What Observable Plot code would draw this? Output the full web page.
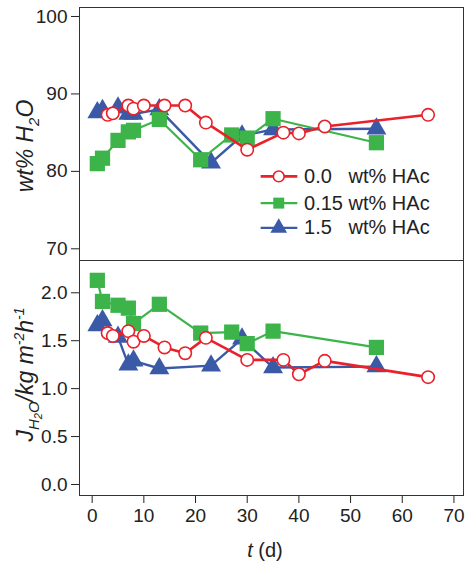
<!DOCTYPE html>
<html><head><meta charset="utf-8">
<script src="https://cdn.jsdelivr.net/npm/d3@7"></script>
<script src="https://cdn.jsdelivr.net/npm/@observablehq/plot@0.6"></script>
<style>
body{margin:0;background:#fff;}
#chart{width:465px;height:565px;overflow:hidden;}
#chart svg{display:block;}
</style></head><body><div id="chart"></div>
<script>
// ---- data ----
const seriesLabels = ["0.0", "0.15", "1.5"];
const seriesUnit = "wt% HAc";
const xTicks = [0, 10, 20, 30, 40, 50, 60, 70];
const wtTicks = [70, 80, 90, 100];
const jTicks = [0.0, 0.5, 1.0, 1.5, 2.0];

const daysA = [3, 4, 7, 8, 10, 14, 18, 22, 30, 37, 40, 45, 65];
const wtA   = [87.3, 87.5, 88.5, 88.1, 88.5, 88.5, 88.5, 86.3, 82.8, 85.0, 84.9, 85.8, 87.3];
const jA    = [1.58, 1.55, 1.60, 1.49, 1.55, 1.43, 1.37, 1.53, 1.30, 1.30, 1.15, 1.29, 1.12];

const daysB = [1, 2, 5, 7, 8, 13, 21, 27, 30, 35, 55];
const wtB   = [81.0, 81.7, 84.0, 85.1, 85.3, 86.7, 81.5, 84.7, 84.3, 86.8, 83.7];
const jB    = [2.13, 1.91, 1.87, 1.84, 1.68, 1.88, 1.58, 1.59, 1.47, 1.60, 1.43];

const daysC = [1, 2, 5, 7, 8, 13, 23, 29, 35, 55];
const wtC   = [87.6, 87.9, 88.2, 87.4, 87.4, 88.0, 81.1, 84.6, 85.4, 85.5];
const jC    = [1.66, 1.71, 1.54, 1.25, 1.29, 1.21, 1.24, 1.52, 1.22, 1.23];

// ---- styling ----
const FONT = "'Liberation Sans', Arial, Helvetica, sans-serif";
const styles = [
  {color: "#e8212b", symbol: "circle", r: 6.2, fill: "white", stroke: "#e8212b", sw: 2.6},
  {color: "#3cb44a", symbol: "square", r: 8.6, fill: "#3cb44a", stroke: "none", sw: 2.2},
  {color: "#3a5aa8", symbol: "triangle", r: 7.4, fill: "#3a5aa8", stroke: "none", sw: 2.4}
];
const raw = [[daysA, wtA, jA], [daysB, wtB, jB], [daysC, wtC, jC]];
const series = raw.map(([d, w, j], i) => d.map((t, k) => ({t, wt: w[k], J: j[k], s: i})));

function seriesMarks(yKey) {
  const marks = [];
  for (const i of [2, 1, 0]) {
    const st = styles[i];
    marks.push(Plot.line(series[i], {x: "t", y: yKey, stroke: st.color, strokeWidth: st.sw}));
    marks.push(Plot.dot(series[i], {x: "t", y: yKey, symbol: () => st.symbol, r: st.r,
      fill: st.fill, stroke: st.stroke, strokeWidth: 1.6}));
  }
  return marks;
}

const xDomain = [-2.45, 71.85];

// legend (layout in data units of the top panel)
const legY = [79.35, 75.9, 72.7];
const legendMarks = [];
seriesLabels.forEach((lab, i) => {
  const st = styles[i];
  const row = [{y: legY[i]}];
  legendMarks.push(Plot.link(row, {x1: () => 32.6, x2: () => 39.7, y1: "y", y2: "y", stroke: st.color, strokeWidth: st.sw}));
  legendMarks.push(Plot.dot(row, {x: () => 36.1, y: "y", symbol: () => st.symbol, r: st.symbol === "square" ? 6.2 : st.symbol === "triangle" ? 6.2 : 5.4,
    fill: st.fill, stroke: st.stroke, strokeWidth: 1.6}));
  legendMarks.push(Plot.text(row, {x: () => 41.0, y: "y", text: () => lab, textAnchor: "start", fontSize: 20, fill: "#222"}));
  legendMarks.push(Plot.text(row, {x: () => 49.6, y: "y", text: () => seriesUnit, textAnchor: "start", fontSize: 20, fill: "#222"}));
});

const topPlot = Plot.plot({
  width: 465, height: 261,
  marginTop: 7, marginBottom: 1, marginLeft: 79, marginRight: 2,
  style: {fontFamily: FONT, fontSize: "19px", background: "transparent", color: "#222"},
  x: {domain: xDomain, axis: null},
  y: {domain: [68.49, 101.16], ticks: wtTicks, tickSize: 8, tickPadding: 4, label: null},
  symbol: {type: "identity"},
  marks: [
    Plot.frame({stroke: "#333"}),
    ...seriesMarks("wt"),
    ...legendMarks
  ]
});

const bottomPlot = Plot.plot({
  width: 465, height: 306,
  marginTop: 1, marginBottom: 70, marginLeft: 79, marginRight: 2,
  style: {fontFamily: FONT, fontSize: "19px", background: "transparent", color: "#222"},
  x: {domain: xDomain, ticks: xTicks, tickSize: 8, tickPadding: 5, label: null},
  y: {domain: [-0.115, 2.337], ticks: jTicks, tickFormat: ".1f", tickSize: 8, tickPadding: 4, label: null},
  symbol: {type: "identity"},
  marks: [
    Plot.frame({stroke: "#333"}),
    ...seriesMarks("J")
  ]
});
bottomPlot.style.marginTop = "-2px";

const chart = document.getElementById("chart");
chart.append(topPlot, bottomPlot);

// axis titles with sub/superscripts
const tsvg = d3.select(topPlot);
const tl = tsvg.append("text")
  .attr("transform", "translate(33,146) rotate(-90)")
  .attr("text-anchor", "middle")
  .attr("font-family", FONT).attr("font-style", "italic").attr("font-size", 23).attr("fill", "#222");
tl.append("tspan").text("wt% H");
tl.append("tspan").attr("font-size", 15).attr("dy", 6).text("2");
tl.append("tspan").attr("dy", -6).text("O");

const bsvg = d3.select(bottomPlot);
const bl = bsvg.append("text")
  .attr("transform", "translate(33,115.5) rotate(-90)")
  .attr("text-anchor", "middle")
  .attr("font-family", FONT).attr("font-style", "italic").attr("font-size", 23).attr("fill", "#222");
bl.append("tspan").text("J");
bl.append("tspan").attr("font-size", 15).attr("dy", 6).text("H");
bl.append("tspan").attr("font-size", 11).attr("dy", 3).text("2");
bl.append("tspan").attr("font-size", 15).attr("dy", -3).text("O");
bl.append("tspan").attr("font-size", 23).attr("dy", -6).text("/kg m");
bl.append("tspan").attr("font-size", 14).attr("dy", -9).text("-2");
bl.append("tspan").attr("font-size", 23).attr("dy", 9).text("h");
bl.append("tspan").attr("font-size", 14).attr("dy", -9).text("-1");

const xl = bsvg.append("text")
  .attr("x", 265).attr("y", 298)
  .attr("text-anchor", "middle")
  .attr("font-family", FONT).attr("font-size", 20).attr("fill", "#222");
xl.append("tspan").attr("font-style", "italic").text("t");
xl.append("tspan").text(" (d)");
</script>
</body></html>
